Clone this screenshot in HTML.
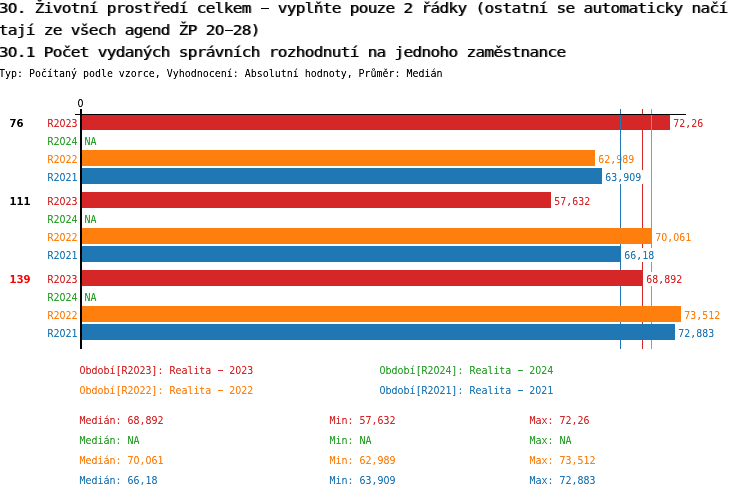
<!DOCTYPE html>
<html lang="cs">
<head>
<meta charset="utf-8">
<title>30. Životní prostředí celkem</title>
<style>
html,body{margin:0;padding:0;background:#fff;}
body{width:750px;height:498px;overflow:hidden;}
svg{display:block;}
text{font-family:"DejaVu Sans Mono","Liberation Mono",monospace;white-space:pre;}
.t{font-size:14px;fill:#000;stroke:#000;stroke-width:0px;letter-spacing:-0.6026px;}
.s{font-size:11px;}
.g{font-size:11px;font-weight:bold;}
</style>
</head>
<body>
<svg width="750" height="498" viewBox="0 0 750 498">
<defs>
<filter id="th" x="0" y="0" width="750" height="498" filterUnits="userSpaceOnUse" color-interpolation-filters="sRGB">
<feComponentTransfer><feFuncA type="table" tableValues="0 0.3 0.85 1"/></feComponentTransfer>
</filter>
<filter id="bx" x="0" y="0" width="750" height="498" filterUnits="userSpaceOnUse" color-interpolation-filters="sRGB">
<feOffset in="SourceGraphic" dx="1" dy="0" result="o"/>
<feComposite in="SourceGraphic" in2="o" operator="arithmetic" k1="-0.55" k2="1" k3="0.55" k4="0" result="m"/>
<feComponentTransfer in="m"><feFuncA type="table" tableValues="0 0.3333 0.6667 1"/></feComponentTransfer>
</filter>
</defs>
<rect x="0" y="0" width="750" height="498" fill="#ffffff"/>

<g shape-rendering="crispEdges">
<rect x="82" y="114" width="588" height="16" fill="#d62728"/>
<rect x="82" y="150" width="513" height="16" fill="#ff7f0e"/>
</g>
<g filter="url(#bx)">
<text class="t" transform="translate(-1.4 13) scale(1.1500 1)">30. Životní prostředí celkem - vyplňte pouze 2 řádky (ostatní se automaticky načí</text>
<text class="t" transform="translate(-1.4 35) scale(1.1500 1)">tají ze všech agend ŽP 20-28)</text>
<text class="t" transform="translate(-1.4 57) scale(1.1500 1)">30.1 Počet vydaných správních rozhodnutí na jednoho zaměstnance</text>
</g>
<g filter="url(#th)">
<text class="s" transform="translate(-1 77) scale(0.9060 1)" fill="#000">Typ: Počítaný podle vzorce, Vyhodnocení: Absolutní hodnoty, Průměr: Medián</text>
<text class="s" transform="translate(77.5 107) scale(0.9060 1)" fill="#000">0</text>
<text class="g" transform="translate(9.5 127) scale(1.0570 1)" fill="#000">76</text>
<text class="s" transform="translate(47.5 127) scale(0.9060 1)" fill="#d62728">R2023</text>
<text class="s" transform="translate(673.3 127) scale(0.9060 1)" fill="#d62728">72,26</text>
<text class="s" transform="translate(47.5 145) scale(0.9060 1)" fill="#2ca02c">R2024</text>
<text class="s" transform="translate(84.5 145) scale(0.9060 1)" fill="#2ca02c">NA</text>
<text class="s" transform="translate(47.5 163) scale(0.9060 1)" fill="#ff7f0e">R2022</text>
<text class="s" transform="translate(598.3 163) scale(0.9060 1)" fill="#ff7f0e">62,989</text>
<text class="s" transform="translate(47.5 181) scale(0.9060 1)" fill="#1f77b4">R2021</text>
<text class="g" transform="translate(9.5 205) scale(1.0570 1)" fill="#000">111</text>
<text class="s" transform="translate(47.5 205) scale(0.9060 1)" fill="#d62728">R2023</text>
<text class="s" transform="translate(554.3 205) scale(0.9060 1)" fill="#d62728">57,632</text>
<text class="s" transform="translate(47.5 223) scale(0.9060 1)" fill="#2ca02c">R2024</text>
<text class="s" transform="translate(84.5 223) scale(0.9060 1)" fill="#2ca02c">NA</text>
<text class="s" transform="translate(47.5 241) scale(0.9060 1)" fill="#ff7f0e">R2022</text>
<text class="s" transform="translate(655.3 241) scale(0.9060 1)" fill="#ff7f0e">70,061</text>
<text class="s" transform="translate(47.5 259) scale(0.9060 1)" fill="#1f77b4">R2021</text>
<text class="g" transform="translate(9.5 283) scale(1.0570 1)" fill="#ff0000">139</text>
<text class="s" transform="translate(47.5 283) scale(0.9060 1)" fill="#d62728">R2023</text>
<text class="s" transform="translate(47.5 301) scale(0.9060 1)" fill="#2ca02c">R2024</text>
<text class="s" transform="translate(84.5 301) scale(0.9060 1)" fill="#2ca02c">NA</text>
<text class="s" transform="translate(47.5 319) scale(0.9060 1)" fill="#ff7f0e">R2022</text>
<text class="s" transform="translate(684.3 319) scale(0.9060 1)" fill="#ff7f0e">73,512</text>
<text class="s" transform="translate(47.5 337) scale(0.9060 1)" fill="#1f77b4">R2021</text>
<text class="s" transform="translate(678.3 337) scale(0.9060 1)" fill="#1f77b4">72,883</text>
<text class="s" transform="translate(79.5 374) scale(0.9060 1)" fill="#d62728">Období[R2023]: Realita - 2023</text>
<text class="s" transform="translate(379.5 374) scale(0.9060 1)" fill="#2ca02c">Období[R2024]: Realita - 2024</text>
<text class="s" transform="translate(79.5 394) scale(0.9060 1)" fill="#ff7f0e">Období[R2022]: Realita - 2022</text>
<text class="s" transform="translate(379.5 394) scale(0.9060 1)" fill="#1f77b4">Období[R2021]: Realita - 2021</text>
<text class="s" transform="translate(79.5 424) scale(0.9060 1)" fill="#d62728">Medián: 68,892</text>
<text class="s" transform="translate(329.5 424) scale(0.9060 1)" fill="#d62728">Min: 57,632</text>
<text class="s" transform="translate(529.5 424) scale(0.9060 1)" fill="#d62728">Max: 72,26</text>
<text class="s" transform="translate(79.5 444) scale(0.9060 1)" fill="#2ca02c">Medián: NA</text>
<text class="s" transform="translate(329.5 444) scale(0.9060 1)" fill="#2ca02c">Min: NA</text>
<text class="s" transform="translate(529.5 444) scale(0.9060 1)" fill="#2ca02c">Max: NA</text>
<text class="s" transform="translate(79.5 464) scale(0.9060 1)" fill="#ff7f0e">Medián: 70,061</text>
<text class="s" transform="translate(329.5 464) scale(0.9060 1)" fill="#ff7f0e">Min: 62,989</text>
<text class="s" transform="translate(529.5 464) scale(0.9060 1)" fill="#ff7f0e">Max: 73,512</text>
<text class="s" transform="translate(79.5 484) scale(0.9060 1)" fill="#1f77b4">Medián: 66,18</text>
<text class="s" transform="translate(329.5 484) scale(0.9060 1)" fill="#1f77b4">Min: 63,909</text>
<text class="s" transform="translate(529.5 484) scale(0.9060 1)" fill="#1f77b4">Max: 72,883</text>
</g>
<g shape-rendering="crispEdges">
<rect x="620" y="109" width="1" height="240" fill="#1f77b4"/>
<rect x="642" y="109" width="1" height="240" fill="#d62728"/>
<rect x="651" y="109" width="1" height="240" fill="#ff7f0e"/>
<rect x="82" y="168" width="520" height="16" fill="#1f77b4"/>
<rect x="82" y="192" width="469" height="16" fill="#d62728"/>
<rect x="82" y="228" width="570" height="16" fill="#ff7f0e"/>
<rect x="82" y="246" width="539" height="16" fill="#1f77b4"/>
<rect x="82" y="270" width="561" height="16" fill="#d62728"/>
<rect x="82" y="306" width="599" height="16" fill="#ff7f0e"/>
<rect x="82" y="324" width="593" height="16" fill="#1f77b4"/>
</g>
<rect x="605" y="170" width="40" height="14" fill="#fff" shape-rendering="crispEdges"/>
<rect x="624" y="248" width="34" height="14" fill="#fff" shape-rendering="crispEdges"/>
<rect x="646" y="272" width="40" height="14" fill="#fff" shape-rendering="crispEdges"/>
<g filter="url(#th)">
<text class="s" transform="translate(605.3 181) scale(0.9060 1)" fill="#1f77b4">63,909</text>
<text class="s" transform="translate(624.3 259) scale(0.9060 1)" fill="#1f77b4">66,18</text>
<text class="s" transform="translate(646.3 283) scale(0.9060 1)" fill="#d62728">68,892</text>
</g>
<g shape-rendering="crispEdges">
<rect x="75" y="114" width="611" height="1" fill="#000"/>
<rect x="80" y="109" width="2" height="240" fill="#000"/>
</g>
<g>
<ellipse cx="12.95" cy="7.88" rx="1.6" ry="1.4" fill="#fff"/>
<rect x="261.00" y="6.50" width="8" height="4" fill="#fff"/><rect x="261.00" y="8.00" width="8" height="1" fill="#000" shape-rendering="crispEdges"/>
<ellipse cx="219.95" cy="29.88" rx="1.6" ry="1.4" fill="#fff"/>
<rect x="225.00" y="28.50" width="8" height="4" fill="#fff"/><rect x="225.00" y="30.00" width="8" height="1" fill="#000" shape-rendering="crispEdges"/>
<ellipse cx="12.95" cy="51.88" rx="1.6" ry="1.4" fill="#fff"/>
<ellipse cx="80.50" cy="102.97" rx="1.15" ry="1.35" fill="#fff"/>
<ellipse cx="62.50" cy="122.97" rx="1.15" ry="1.35" fill="#fff"/>
<ellipse cx="62.50" cy="140.97" rx="1.15" ry="1.35" fill="#fff"/>
<ellipse cx="62.50" cy="158.97" rx="1.15" ry="1.35" fill="#fff"/>
<ellipse cx="62.50" cy="176.97" rx="1.15" ry="1.35" fill="#fff"/>
<ellipse cx="632.30" cy="176.97" rx="1.15" ry="1.35" fill="#fff"/>
<ellipse cx="62.50" cy="200.97" rx="1.15" ry="1.35" fill="#fff"/>
<ellipse cx="62.50" cy="218.97" rx="1.15" ry="1.35" fill="#fff"/>
<ellipse cx="62.50" cy="236.97" rx="1.15" ry="1.35" fill="#fff"/>
<ellipse cx="664.30" cy="236.97" rx="1.15" ry="1.35" fill="#fff"/>
<ellipse cx="676.30" cy="236.97" rx="1.15" ry="1.35" fill="#fff"/>
<ellipse cx="62.50" cy="254.97" rx="1.15" ry="1.35" fill="#fff"/>
<ellipse cx="62.50" cy="278.97" rx="1.15" ry="1.35" fill="#fff"/>
<ellipse cx="62.50" cy="296.97" rx="1.15" ry="1.35" fill="#fff"/>
<ellipse cx="62.50" cy="314.97" rx="1.15" ry="1.35" fill="#fff"/>
<ellipse cx="62.50" cy="332.97" rx="1.15" ry="1.35" fill="#fff"/>
<ellipse cx="136.50" cy="369.97" rx="1.15" ry="1.35" fill="#fff"/>
<rect x="218.00" y="368.80" width="5" height="3.4" fill="#fff"/><rect x="218.00" y="370.00" width="5" height="1" fill="#d62728" shape-rendering="crispEdges"/>
<ellipse cx="238.50" cy="369.97" rx="1.15" ry="1.35" fill="#fff"/>
<ellipse cx="436.50" cy="369.97" rx="1.15" ry="1.35" fill="#fff"/>
<rect x="518.00" y="368.80" width="5" height="3.4" fill="#fff"/><rect x="518.00" y="370.00" width="5" height="1" fill="#2ca02c" shape-rendering="crispEdges"/>
<ellipse cx="538.50" cy="369.97" rx="1.15" ry="1.35" fill="#fff"/>
<ellipse cx="136.50" cy="389.97" rx="1.15" ry="1.35" fill="#fff"/>
<rect x="218.00" y="388.80" width="5" height="3.4" fill="#fff"/><rect x="218.00" y="390.00" width="5" height="1" fill="#ff7f0e" shape-rendering="crispEdges"/>
<ellipse cx="238.50" cy="389.97" rx="1.15" ry="1.35" fill="#fff"/>
<ellipse cx="436.50" cy="389.97" rx="1.15" ry="1.35" fill="#fff"/>
<rect x="518.00" y="388.80" width="5" height="3.4" fill="#fff"/><rect x="518.00" y="390.00" width="5" height="1" fill="#1f77b4" shape-rendering="crispEdges"/>
<ellipse cx="538.50" cy="389.97" rx="1.15" ry="1.35" fill="#fff"/>
<ellipse cx="136.50" cy="459.97" rx="1.15" ry="1.35" fill="#fff"/>
<ellipse cx="148.50" cy="459.97" rx="1.15" ry="1.35" fill="#fff"/>
<ellipse cx="386.50" cy="479.97" rx="1.15" ry="1.35" fill="#fff"/>
</g>
</svg>
</body>
</html>
